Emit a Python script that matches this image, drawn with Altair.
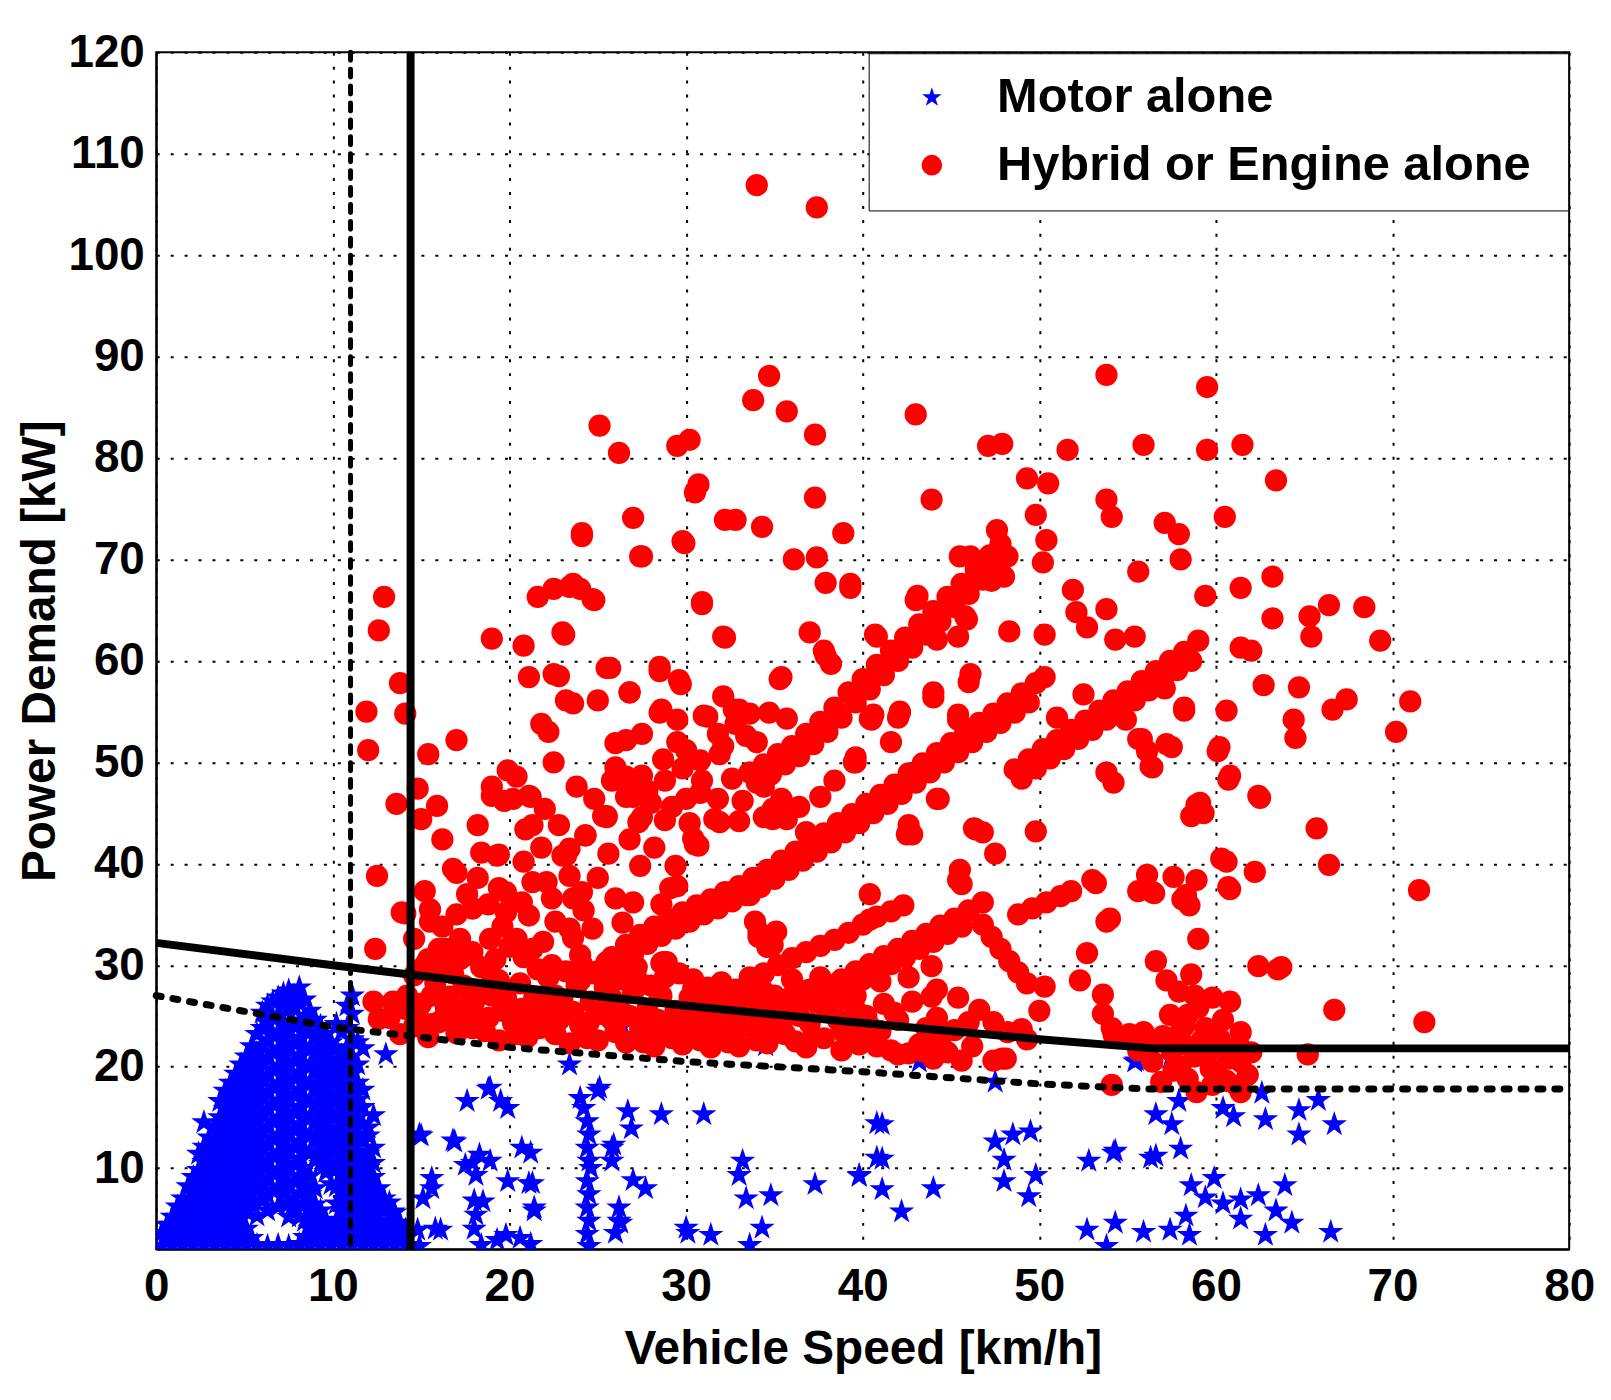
import altair as alt
import pandas as pd

# ---------------- data ----------------
MOTOR = "Motor alone"
HYBRID = "Hybrid or Engine alone"

# Blue cluster at low speed: (x, [y values]) columns
blue_cluster_cols = [
    (0.3, [2.3, 3.6]),
    (0.9, [2.3, 3.8, 5.2]),
    (1.5, [2.3, 3.9, 5.6, 7.0]),
    (2.1, [2.4, 4.0, 5.7, 7.4, 9.1]),
    (2.7, [2.3, 3.9, 5.5, 7.2, 8.9, 10.6, 12.1, 14.5]),
    (3.3, [2.4, 4.1, 5.8, 7.5, 9.2, 10.9, 12.6, 14.1]),
    (3.9, [2.3, 4.0, 5.6, 7.3, 9.0, 10.7, 12.4, 14.1, 15.8, 17.6]),
    (4.5, [2.5, 4.2, 5.9, 7.6, 9.3, 11.0, 12.7, 14.4, 16.1, 17.8, 19.3]),
    (5.1, [2.3, 4.0, 5.7, 7.4, 9.1, 10.8, 12.5, 14.2, 15.9, 17.6, 19.3, 21.0]),
    (5.7, [2.4, 5.3, 7.7, 9.4, 11.1, 12.8, 14.5, 16.2, 17.9, 19.6, 21.3, 23.2]),
    (6.3, [2.3, 5.8, 7.3, 9.0, 10.7, 12.4, 14.1, 15.8, 17.5, 19.2, 20.9, 22.6, 24.3, 26.0]),
    (6.9, [2.4, 6.2, 8.1, 9.8, 11.5, 13.2, 14.9, 16.6, 18.3, 20.0, 21.7, 23.4, 25.1, 26.8]),
    (7.5, [2.3, 5.2, 6.5, 8.2, 9.9, 11.6, 13.3, 15.0, 16.7, 18.4, 20.1, 21.8, 23.5, 25.6, 27.5]),
    (8.1, [2.5, 5.2, 7.5, 9.2, 10.9, 12.6, 14.3, 16.0, 17.7, 19.4, 21.1, 22.8, 24.5, 26.5, 27.8]),
    (8.7, [2.3, 4.0, 5.7, 7.4, 9.2, 11.5, 13.2, 14.9, 16.6, 18.3, 20.0, 21.7, 23.4, 25.5]),
    (9.3, [2.4, 4.1, 5.8, 10.4, 12.2, 13.9, 15.6, 17.3, 19.0, 20.7, 22.4, 24.0]),
    (9.9, [2.3, 4.0, 8.4, 10.5, 12.2, 13.9, 15.6, 17.3, 19.0, 20.7, 22.4]),
    (10.5, [2.4, 4.1, 5.8, 7.5, 9.2, 10.9, 12.6, 14.3, 16.0, 17.7, 19.4, 21.1, 23.4]),
    (11.1, [2.3, 4.0, 5.7, 7.4, 9.1, 10.8, 12.5, 14.2, 15.9, 17.6, 19.3, 21.0, 22.7, 25.2, 27.0]),
    (11.7, [2.4, 4.1, 5.8, 7.5, 9.2, 10.9, 12.6, 14.3, 16.0, 17.7, 21.8]),
    (12.3, [2.3, 4.0, 5.7, 7.4, 9.1, 10.5, 12.0, 15.2]),
    (12.9, [2.4, 4.1, 5.8, 7.0]),
    (13.5, [2.3, 4.0, 5.6]),
    (14.1, [2.4, 3.9]),
    (0.6, [3.0, 4.4]),
    (1.2, [3.1, 4.6, 6.2]),
    (1.8, [3.1, 4.8, 6.5, 8.2]),
    (2.4, [3.1, 4.8, 6.5, 8.1, 9.8, 11.4]),
    (3.0, [3.1, 4.7, 6.4, 8.0, 9.7, 11.4, 13.0]),
    (3.6, [3.2, 4.9, 6.6, 8.3, 10.0, 11.7, 13.4, 15.0, 16.6]),
    (4.2, [3.1, 4.8, 6.5, 8.2, 9.9, 11.6, 13.3, 15.0, 16.7, 18.4]),
    (4.8, [3.3, 5.0, 6.7, 8.4, 10.1, 11.8, 13.5, 15.2, 16.9, 18.6, 20.2]),
    (5.4, [3.1, 6.6, 8.3, 10.0, 11.7, 13.4, 15.1, 16.8, 18.5, 20.2, 22.0]),
    (6.0, [6.8, 8.5, 10.2, 11.9, 13.6, 15.3, 17.0, 18.7, 20.4, 22.1, 23.8, 25.3]),
    (6.6, [7.8, 9.5, 11.2, 12.9, 14.6, 16.3, 18.0, 19.7, 21.4, 23.1, 24.8, 26.4]),
    (7.2, [7.4, 9.1, 10.8, 12.5, 14.2, 15.9, 17.6, 19.3, 21.0, 22.7, 24.4, 26.1, 27.2]),
    (7.8, [6.0, 7.0, 8.7, 10.4, 12.1, 13.8, 15.5, 17.2, 18.9, 20.6, 22.3, 24.0, 25.7, 27.0]),
    (8.4, [3.2, 4.8, 6.5, 8.3, 10.0, 11.8, 13.5, 15.2, 16.9, 18.6, 20.3, 22.0, 23.7, 25.0, 26.6]),
    (9.0, [3.1, 4.8, 6.4, 8.0, 11.0, 12.8, 14.5, 16.2, 17.9, 19.6, 21.3, 23.0, 24.6]),
    (9.6, [3.2, 4.9, 9.6, 11.3, 13.0, 14.7, 16.4, 18.1, 19.8, 21.5, 23.2]),
    (10.2, [3.1, 4.8, 6.5, 8.2, 9.9, 11.6, 13.3, 15.0, 16.7, 18.4, 20.1, 21.8, 24.2]),
    (10.8, [3.2, 4.9, 6.6, 8.3, 10.0, 11.7, 13.4, 15.1, 16.8, 18.5, 20.2, 21.9, 23.8, 26.0]),
    (11.4, [3.1, 4.8, 6.5, 8.2, 9.9, 11.6, 13.3, 15.0, 16.7, 18.4, 20.2, 22.4]),
    (12.0, [3.2, 4.9, 6.6, 8.3, 10.0, 11.4, 13.2, 14.0]),
    (12.6, [3.1, 4.8, 6.4, 8.0]),
    (13.2, [3.2, 4.8, 6.6]),
    (13.8, [3.1, 4.6]),
]

blue_scattered = [
    (13.0, 21.2), (14.9, 13.3), (16.9, 12.6), (17.6, 16.6), (18.9, 17.9), (19.9, 15.9),
    (20.7, 12.0), (18.3, 11.3), (18.9, 10.7), (17.5, 10.3), (18.1, 9.3), (15.6, 9.0),
    (19.9, 8.7), (21.1, 8.5), (21.4, 6.1), (18.5, 6.7), (18.1, 5.4), (15.6, 8.0),
    (15.1, 7.0), (12.6, 6.7), (13.4, 5.7), (21.4, 5.8), (21.2, 2.5), (19.3, 2.9),
    (18.0, 4.0), (18.4, 2.4), (15.8, 4.0), (14.9, 2.3), (16.1, 3.9), (14.8, 3.9),
    (15.0, 13.2), (17.9, 10.5), (18.0, 6.8), (21.2, 11.5), (21.3, 8.5), (20.6, 3.1),
    (19.8, 3.4), (18.8, 17.8), (19.5, 16.6), (16.8, 12.7),
    (23.4, 20.2), (25.1, 17.9), (24.0, 16.9), (24.2, 15.9), (24.4, 14.6), (24.5, 13.3),
    (24.4, 12.0), (24.5, 10.7), (24.6, 10.0), (24.4, 8.7), (24.5, 7.4), (24.4, 6.1),
    (24.5, 4.8), (24.4, 3.5), (24.5, 2.3), (25.0, 17.6), (25.8, 12.0), (25.8, 10.7),
    (25.9, 12.3), (26.9, 13.9), (26.7, 15.6), (28.6, 15.3), (31.0, 15.3), (27.0, 8.8),
    (27.7, 8.0), (26.2, 6.1), (26.2, 4.8), (26.3, 4.6), (26.0, 3.6), (30.1, 3.6),
    (31.4, 3.4), (30.0, 4.1), (26.4, 24.0),
    (33.2, 10.7), (33.0, 9.3), (33.4, 7.0), (34.8, 7.3), (34.3, 4.1), (33.6, 2.4),
    (37.3, 8.4), (39.8, 9.3), (40.8, 14.4), (40.8, 11.0), (34.5, 22.1),
    (41.1, 14.3), (41.1, 10.9), (39.8, 9.2), (41.1, 7.9), (44.0, 8.0), (42.2, 5.7),
    (43.2, 20.5), (47.5, 18.5), (47.5, 12.6), (48.5, 13.3), (49.5, 13.6), (48.0, 10.8),
    (48.0, 8.7), (49.8, 9.3), (49.4, 7.2),
    (52.8, 10.7), (54.3, 11.7), (56.6, 11.2), (58.0, 11.9), (55.4, 20.5), (57.4, 20.8),
    (57.9, 16.6), (56.6, 15.3), (57.5, 14.3), (60.4, 15.9), (61.0, 15.1), (62.6, 17.4),
    (62.8, 14.8), (64.7, 15.7), (65.8, 16.7), (64.7, 13.3), (66.7, 14.3), (58.6, 8.3),
    (59.9, 9.0), (59.4, 7.1), (60.4, 6.5), (61.4, 6.9), (62.4, 7.3), (63.9, 8.3),
    (63.4, 5.8), (64.3, 4.6), (61.4, 5.0), (58.3, 5.3), (54.3, 4.6), (52.7, 3.9),
    (55.9, 3.7), (57.4, 3.9), (66.5, 3.7), (53.8, 2.3), (58.5, 3.4), (62.8, 3.4),
    (55.5, 20.6), (56.3, 11.0), (54.2, 11.5),
]

# Hybrid / engine: scattered points
red_scattered = [
    (34.0, 106.9), (37.4, 104.7), (53.8, 88.2), (59.5, 87.0), (34.7, 88.1), (33.8, 85.7),
    (35.7, 84.6), (43.0, 84.3), (25.1, 83.2), (26.2, 80.5), (37.3, 82.3), (29.5, 81.2),
    (30.2, 81.8), (47.1, 81.2), (47.9, 81.4), (51.6, 80.8), (55.9, 81.3), (59.5, 80.8),
    (61.5, 81.3), (63.4, 77.8), (49.3, 78.0), (50.5, 77.5), (43.9, 75.9), (37.3, 76.1),
    (30.5, 76.6), (30.7, 77.4), (27.0, 74.1), (32.2, 73.9), (32.8, 73.9), (34.3, 73.2),
    (27.5, 70.3), (24.1, 72.6), (29.8, 71.8), (38.9, 72.6), (36.1, 70.0), (37.4, 70.2),
    (39.3, 67.2), (37.9, 67.7), (49.8, 74.4), (53.8, 75.9), (54.1, 74.2), (57.1, 73.6),
    (57.9, 72.5), (60.5, 74.2), (50.4, 71.9), (50.2, 69.7), (47.6, 72.9), (48.2, 70.3),
    (47.3, 67.9), (46.1, 70.3), (48.0, 68.3), (55.6, 68.8), (58.0, 70.0), (39.3, 67.6),
    (43.1, 66.4), (51.9, 67.0), (61.4, 67.2), (63.2, 68.3), (59.4, 66.4), (53.8, 65.1),
    (52.1, 64.8), (52.7, 63.3), (45.8, 64.4), (45.4, 62.4), (44.2, 62.1), (40.7, 62.6),
    (48.3, 62.9), (50.3, 62.6), (54.3, 62.1), (55.4, 62.4), (61.4, 61.3), (62.0, 61.0),
    (63.2, 64.2), (65.3, 64.4), (65.4, 62.4), (66.4, 65.5), (68.4, 65.3), (69.3, 62.0),
    (71.0, 56.0), (70.2, 53.0), (62.7, 57.6), (64.7, 57.4), (64.4, 54.2), (64.5, 52.4),
    (66.6, 55.2), (67.4, 56.2), (60.2, 51.5), (60.8, 48.7), (57.5, 51.5), (58.2, 55.4),
    (57.1, 57.3), (55.8, 52.3), (56.4, 49.5), (53.8, 49.0), (54.2, 48.0), (54.9, 54.2),
    (52.5, 56.7), (51.0, 54.4), (39.6, 50.5), (40.5, 54.2), (42.0, 54.4), (44.0, 56.4),
    (45.4, 54.2), (46.1, 58.7), (30.9, 65.8), (21.6, 66.3), (22.5, 67.1), (23.4, 67.3),
    (24.0, 67.1), (24.8, 66.0), (12.9, 66.3), (12.6, 63.0), (23.0, 62.8), (19.0, 62.2),
    (20.8, 61.5), (25.5, 59.3), (21.1, 58.4), (22.5, 58.7), (32.1, 62.4), (28.5, 59.4),
    (29.6, 58.1), (35.4, 58.4), (37.8, 61.0), (38.2, 59.7), (24.1, 72.3), (27.4, 70.3),
    (29.9, 71.6), (30.9, 65.6), (32.2, 62.3), (37.0, 62.8), (35.3, 58.2), (37.9, 60.5),
    (43.0, 66.0), (40.8, 62.4), (45.5, 70.3), (45.9, 64.1), (44.0, 56.9), (46.0, 57.9),
    (42.1, 54.9), (40.6, 54.7), (45.4, 54.7), (39.6, 50.0), (44.3, 46.4), (42.6, 43.8),
    (46.4, 43.4), (36.8, 43.1), (23.6, 67.6), (24.7, 66.1), (23.1, 62.6), (25.7, 59.3),
    (22.8, 58.5), (23.2, 56.1), (25.0, 56.1), (26.8, 56.9), (28.5, 59.0), (29.7, 57.7),
    (60.6, 55.1), (60.1, 51.1), (60.7, 48.3), (59.1, 46.0), (59.3, 45.0), (58.6, 44.7),
    (62.5, 46.5), (58.2, 55.1), (57.2, 51.8), (56.1, 51.1), (55.6, 52.3), (56.3, 49.6),
    (71.5, 37.4), (71.8, 24.4), (66.7, 25.6), (66.4, 39.9), (65.7, 43.5), (65.2, 21.2),
    (62.4, 46.7), (58.9, 45.8), (60.6, 40.2), (60.7, 37.7), (62.2, 39.2), (58.9, 38.4),
    (58.3, 36.9), (58.5, 35.9), (57.6, 38.7), (56.1, 38.9), (55.6, 37.3), (56.5, 37.1),
    (53.0, 38.4), (59.0, 32.6), (63.5, 29.6), (62.4, 29.9), (63.7, 29.8), (54.0, 34.6),
    (60.3, 40.5), (60.8, 37.5), (58.1, 36.5), (56.4, 37.2), (53.2, 38.1), (53.8, 34.3),
    (52.7, 31.2), (52.3, 28.5), (53.6, 27.1), (53.6, 25.2), (54.1, 23.8), (54.1, 18.2),
    (56.4, 20.5), (56.9, 18.5), (58.4, 18.8), (58.9, 17.5), (59.7, 19.8), (60.7, 20.8),
    (61.4, 17.5), (61.4, 20.5), (61.4, 23.4), (60.8, 26.4), (58.6, 29.1), (57.2, 28.5),
    (56.6, 30.4), (57.4, 25.1), (58.4, 25.1), (59.0, 25.8), (59.4, 23.8), (57.9, 23.2),
    (55.9, 23.4), (55.1, 23.2), (54.2, 23.2), (57.9, 27.4), (61.3, 22.1), (61.2, 18.1),
    (60.0, 19.5), (57.5, 21.5), (58.2, 22.2), (59.6, 21.6), (60.4, 24.6),
    (58.0, 20.0), (58.8, 21.0), (59.2, 22.6), (60.2, 22.8), (59.8, 26.8), (58.8, 27.0),
    (58.2, 24.0), (57.0, 23.0), (56.2, 22.0), (55.6, 21.6), (60.6, 18.6), (59.8, 18.2),
    (57.6, 19.6), (62.0, 21.4), (61.8, 19.2),
    (44.2, 46.4), (46.3, 43.5), (49.8, 43.2), (47.5, 41.0), (45.4, 38.4), (40.4, 37.0),
    (42.5, 42.9), (43.9, 26.9), (42.0, 21.2), (43.2, 22.2), (40.3, 23.8), (47.9, 20.8),
    (47.4, 20.6), (48.1, 20.8), (49.3, 22.7), (49.0, 23.7), (50.0, 25.5), (50.3, 27.9),
    (43.9, 29.9), (43.6, 21.7), (36.8, 21.9), (40.4, 34.5), (42.8, 42.9), (46.8, 43.1),
    (45.5, 39.4), (45.6, 38.0), (41.6, 52.0), (40.4, 54.3), (42.1, 55.0), (39.5, 50.0),
]

# Points left of / around the vertical line and the upper-left part of the cloud
red_left = [
    (11.9, 55.0), (12.0, 51.2), (13.8, 57.8), (14.1, 54.8), (12.5, 38.8), (12.4, 31.6),
    (13.6, 45.9), (14.8, 47.4), (15.0, 44.4), (15.4, 50.8), (15.9, 45.7), (17.0, 52.2),
    (15.5, 35.5), (15.2, 37.3), (14.1, 35.1), (17.0, 39.1), (19.0, 47.6), (19.9, 49.2),
    (19.7, 46.2), (21.2, 46.6), (20.9, 43.4), (22.5, 50.0), (21.8, 53.8), (22.2, 53.0),
    (23.6, 55.8), (23.0, 40.8), (18.4, 41.1), (19.4, 40.9), (26.0, 49.5), (26.6, 52.2),
    (27.5, 52.8), (26.8, 56.9), (28.6, 55.2), (29.5, 54.2), (31.2, 54.5), (32.7, 55.2),
    (33.0, 55.0), (29.5, 52.0), (30.0, 51.2), (30.8, 47.0), (30.5, 41.9), (29.5, 37.8),
    (28.6, 30.2), (33.9, 34.3), (34.1, 32.8), (34.6, 31.8), (35.1, 33.3),
    (13.9, 35.2), (14.1, 25.7), (12.6, 24.7), (13.4, 26.4), (15.5, 34.3), (16.0, 31.6),
    (17.2, 30.6), (17.9, 35.6), (19.4, 37.6), (19.8, 35.2), (20.7, 36.2), (21.3, 31.6),
    (22.6, 34.3), (23.6, 36.6), (24.1, 30.1), (21.3, 38.2), (15.6, 27.0), (16.0, 24.4),
    (17.5, 25.7), (17.9, 23.8), (19.0, 27.0), (19.4, 28.5), (20.7, 25.7), (21.7, 23.8),
    (22.8, 25.7), (24.0, 24.1), (24.0, 28.5), (23.6, 32.7), (15.1, 23.8), (12.3, 26.4),
    (16.8, 39.5), (19.3, 40.8), (19.8, 37.2), (17.9, 35.6), (21.3, 43.8), (21.1, 46.7),
    (19.0, 46.7), (20.2, 46.4), (24.3, 42.8), (25.5, 44.7), (23.2, 40.8), (22.1, 38.2),
    (21.1, 34.9), (24.1, 37.2), (27.0, 36.2), (24.7, 33.6), (18.9, 32.6), (17.2, 32.6),
    (21.9, 32.3), (23.4, 33.6), (17.5, 27.7), (19.8, 26.7), (21.3, 25.1), (22.6, 27.0),
    (24.0, 29.0), (25.5, 30.3), (24.5, 24.4), (25.8, 26.7), (27.3, 28.4), (28.9, 30.3),
    (28.5, 27.0), (30.4, 27.7), (28.1, 23.1), (26.6, 22.5), (29.6, 23.4), (31.1, 24.4),
    (32.3, 23.1), (33.8, 24.4), (34.9, 23.4), (35.7, 25.1), (36.8, 22.1), (37.5, 26.7),
    (39.6, 27.0), (40.2, 24.4), (34.1, 27.7), (32.6, 37.2), (29.1, 37.6), (31.9, 44.1),
    (30.4, 42.5), (30.7, 41.8), (34.9, 44.4), (33.6, 36.9), (34.1, 33.3), (34.9, 32.0),
    (28.7, 30.3), (17.9, 31.3), (16.4, 31.6),
    (26.0, 51.9), (28.7, 50.3), (32.1, 51.6), (33.4, 52.6), (28.5, 54.9), (31.0, 54.6),
    (32.1, 56.5), (33.0, 55.2), (34.7, 54.9), (35.7, 54.3), (34.0, 52.0), (30.9, 48.2),
    (31.9, 50.8), (30.0, 46.4), (26.6, 48.6), (27.0, 46.6), (27.5, 44.6), (28.8, 44.3),
    (30.2, 44.0), (31.6, 44.4), (33.0, 44.2), (34.4, 44.6), (35.7, 44.4), (34.9, 45.4),
    (25.3, 44.7), (24.3, 42.8), (23.4, 41.5), (27.2, 48.0), (27.5, 48.7), (26.6, 46.6),
    (25.5, 44.6), (27.3, 44.1), (36.8, 43.1),
    (14.6, 32.6), (15.2, 30.0), (16.2, 33.8), (17.0, 35.0), (17.6, 37.0), (18.2, 38.6),
    (18.8, 36.0), (19.6, 33.8), (20.4, 32.6), (20.8, 40.2), (21.8, 41.6), (22.4, 36.6),
    (22.8, 43.8), (23.4, 38.8), (24.2, 35.4), (25.0, 38.6), (25.6, 41.0), (26.0, 36.6),
    (26.4, 34.2), (27.4, 39.8), (28.2, 41.6), (28.6, 36.0), (29.4, 39.8), (26.8, 42.4),
    (18.2, 43.8), (16.2, 42.4), (20.4, 48.6), (23.8, 47.6), (22.0, 45.4), (24.8, 46.4),
    (25.8, 48.2), (28.0, 46.0), (29.2, 45.6), (31.8, 46.4), (32.6, 48.4), (33.2, 46.2),
    (34.4, 47.6), (35.4, 46.4), (36.4, 45.6), (37.6, 46.6), (38.4, 48.2),
    (27.8, 47.2), (28.8, 48.2), (29.8, 49.4), (30.8, 50.2), (31.8, 52.8), (32.8, 53.8),
    (33.6, 54.8),
]

# Dense band just above the dashed boundary
red_band = [
    (13.2, 24.8), (13.8, 23.2), (14.6, 24.0), (15.4, 22.9), (16.2, 24.6), (17.0, 23.3),
    (17.8, 25.2), (18.6, 23.5), (19.4, 22.6), (20.2, 24.3), (21.0, 22.9), (21.8, 25.0),
    (22.6, 23.2), (23.4, 22.3), (24.2, 24.0), (25.0, 22.6), (25.8, 24.6), (26.6, 22.4),
    (27.4, 23.8), (28.2, 22.0), (29.0, 23.6), (29.8, 22.2), (30.6, 23.8), (31.4, 21.9),
    (32.2, 23.5), (33.0, 22.0), (33.8, 23.9), (34.6, 22.3), (35.4, 24.1), (36.2, 22.5),
    (37.0, 24.3), (37.8, 22.8), (38.6, 24.6), (39.4, 23.2), (40.2, 25.0), (41.0, 23.5),
    (41.8, 25.3), (42.6, 21.3), (43.4, 21.5), (44.2, 24.8),
    (14.2, 27.0), (15.0, 26.2), (15.8, 28.3), (16.6, 26.9), (17.4, 28.0), (18.2, 27.1),
    (19.0, 29.0), (19.8, 26.7), (20.6, 28.2), (21.4, 26.8), (22.2, 28.8), (23.0, 26.5),
    (23.8, 28.0), (24.6, 26.4), (25.4, 27.8), (26.2, 25.9), (27.0, 27.3), (27.8, 25.6),
    (28.6, 27.0), (29.4, 25.5), (30.2, 26.8), (31.0, 25.3), (31.8, 26.5), (32.6, 25.2),
    (33.4, 26.6), (34.2, 25.6), (35.0, 27.0), (35.8, 26.0), (36.6, 27.4), (37.4, 26.3),
    (38.2, 27.6), (39.0, 26.6),
    (16.0, 30.2), (17.6, 31.0), (19.2, 30.6), (20.8, 30.8), (22.4, 30.0), (24.0, 31.0),
    (25.6, 30.0), (27.2, 29.8), (28.8, 28.8), (30.4, 28.6), (32.0, 28.3), (33.6, 28.8),
    (14.8, 25.4), (15.6, 24.2), (16.4, 25.8), (17.2, 24.6), (18.0, 26.4), (18.8, 24.8),
    (19.6, 25.5), (20.4, 23.2), (21.2, 24.2), (22.0, 26.6), (22.8, 24.6), (23.6, 25.4),
    (24.4, 22.8), (25.2, 25.2), (26.0, 23.4), (26.8, 25.0), (27.6, 22.4), (28.4, 24.6),
    (29.2, 22.8), (30.0, 24.9), (30.8, 22.6), (31.6, 24.7), (32.4, 22.4), (33.2, 24.0),
    (34.0, 22.6), (34.8, 24.8), (35.6, 23.2), (36.4, 25.0), (37.2, 23.0), (38.0, 25.4),
    (38.8, 23.6), (39.6, 25.6), (40.4, 24.0), (41.2, 26.2), (42.0, 24.6), (42.8, 26.4),
    (43.6, 23.8), (44.4, 22.6), (45.2, 23.6), (46.0, 24.4), (44.8, 21.4), (41.6, 21.6),
    (40.8, 22.0), (39.8, 22.2), (38.8, 21.6),
    (14.6, 29.0), (15.4, 30.6), (16.8, 29.2), (18.4, 29.8), (20.0, 31.8), (21.6, 29.6),
    (23.2, 29.4), (24.8, 29.2), (26.4, 28.6), (28.0, 28.0), (29.6, 29.2), (31.2, 27.8),
    (32.8, 27.0), (34.4, 27.4), (36.0, 28.6), (37.6, 28.8), (39.4, 28.0), (41.0, 28.4),
    (42.6, 28.8), (44.2, 27.6), (45.4, 26.8), (46.6, 25.6), (47.4, 24.4), (48.2, 23.4),
    (46.2, 22.0), (45.6, 20.6), (44.0, 20.8),
]

# Diagonal streaks of the red cloud
red_streak_a = [
    (33.6, 49.0), (34.4, 49.8), (35.2, 50.8), (36.0, 51.6), (36.8, 52.8), (37.6, 54.0),
    (38.4, 55.4), (39.2, 56.9), (40.0, 58.2), (40.8, 59.6), (41.6, 61.0), (42.4, 62.3),
    (43.2, 63.6), (44.0, 64.9), (44.8, 66.3), (45.6, 67.6), (46.4, 69.0), (47.2, 70.4),
    (47.8, 71.5),
    (34.0, 48.0), (34.8, 48.8), (35.6, 49.8), (36.4, 50.6), (37.2, 51.8), (38.0, 53.0),
    (38.8, 54.4), (39.6, 55.9), (40.4, 57.2), (41.2, 58.6), (42.0, 60.0), (42.8, 61.3),
    (43.6, 62.6), (44.4, 63.9), (45.2, 65.3), (46.0, 66.6), (46.8, 68.0), (47.6, 69.4),
]
red_streak_b = [
    (25.0, 29.4), (25.8, 30.8), (26.6, 32.0), (27.4, 33.0), (28.2, 33.8), (29.0, 34.5),
    (29.8, 35.2), (30.6, 35.9), (31.4, 36.5), (32.2, 37.2), (33.0, 37.8), (33.8, 38.6),
    (34.6, 39.4), (35.4, 40.3), (36.2, 41.2), (37.0, 42.1), (37.8, 43.0), (38.6, 44.0),
    (39.4, 44.9), (40.2, 45.9), (41.0, 46.8), (41.8, 47.8), (42.6, 48.9), (43.4, 49.9),
    (44.2, 50.9), (45.0, 51.9), (45.8, 52.9), (46.6, 53.9), (47.4, 54.8), (48.2, 55.8),
    (49.0, 56.8), (49.8, 57.8), (50.3, 58.4),
    (25.4, 28.5), (26.2, 29.9), (27.0, 31.1), (27.8, 32.1), (28.6, 32.9), (29.4, 33.6),
    (30.2, 34.3), (31.0, 35.0), (31.8, 35.6), (32.6, 36.3), (33.4, 36.9), (34.2, 37.7),
    (35.0, 38.5), (35.8, 39.4), (36.6, 40.3), (37.4, 41.2), (38.2, 42.1), (39.0, 43.1),
    (39.8, 44.0), (40.6, 45.0), (41.4, 45.9), (42.2, 46.9), (43.0, 48.0), (43.8, 49.0),
    (44.6, 50.0), (45.4, 51.0), (46.2, 52.0), (47.0, 53.0), (47.8, 53.9), (48.6, 54.9),
    (49.4, 55.9),
]
red_streak_c = [
    (48.6, 49.3), (49.4, 50.3), (50.2, 51.3), (51.0, 52.2), (51.8, 53.2), (52.6, 54.1),
    (53.4, 55.1), (54.2, 56.1), (55.0, 57.0), (55.8, 58.0), (56.6, 59.0), (57.4, 60.0),
    (58.2, 60.9), (59.0, 62.0),
    (49.0, 48.4), (49.8, 49.4), (50.6, 50.4), (51.4, 51.3), (52.2, 52.3), (53.0, 53.2),
    (53.8, 54.2), (54.6, 55.2), (55.4, 56.1), (56.2, 57.1), (57.0, 58.1), (57.8, 59.1),
    (58.6, 60.0),
]
red_streak_d = [
    (30.4, 25.6), (31.2, 26.3), (32.0, 27.0), (32.8, 27.6), (33.6, 28.4), (34.4, 29.2),
    (35.2, 30.0), (36.0, 30.7), (36.8, 31.3), (37.6, 31.9), (38.4, 32.5), (39.2, 33.2),
    (40.0, 34.0), (40.8, 34.8), (41.6, 35.3), (42.3, 35.9),
    (31.0, 23.8), (32.0, 24.5), (33.0, 25.2), (34.0, 25.8), (35.0, 26.4), (36.0, 27.0),
    (37.0, 27.6), (38.0, 28.1), (38.8, 28.6), (39.6, 29.4), (40.4, 30.1), (41.2, 30.9),
    (42.0, 31.6), (42.8, 32.4), (43.6, 33.1), (44.4, 33.9), (45.2, 34.6), (46.0, 35.4),
    (46.8, 36.2),
    (31.4, 23.0), (32.4, 23.7), (33.4, 24.4), (34.4, 25.0), (35.4, 25.6), (36.4, 26.2),
    (37.4, 26.8), (38.4, 27.3), (39.2, 27.9), (40.0, 28.6), (40.8, 29.3), (41.6, 30.1),
    (42.4, 30.8), (43.2, 31.6), (44.0, 32.3), (44.8, 33.1), (45.6, 33.8),
    (46.8, 34.0), (47.3, 32.8), (47.8, 31.6), (48.3, 30.4), (48.8, 29.3), (49.3, 28.2),
    (48.8, 35.0), (49.6, 35.6), (50.4, 36.2), (51.2, 36.8), (51.8, 37.3),
]

# Boundary curves and thresholds
solid_x = [0, 10, 20, 30, 40, 50, 56.4, 80]
solid_y = [32.2, 30.0, 27.9, 26.0, 24.3, 22.7, 21.8, 21.8]
dashed_x = [0, 10, 20, 30, 40, 50, 56, 80]
dashed_y = [27.0, 23.9, 21.9, 20.5, 19.5, 18.3, 17.8, 17.8]
solid_vline_x = [14.4]
dashed_vline_x = [11.0]

x_ticks = [0, 10, 20, 30, 40, 50, 60, 70, 80]
y_ticks = [10, 20, 30, 40, 50, 60, 70, 80, 90, 100, 110, 120]

# ---------------- build tables ----------------
rows = []
for cx, ys in blue_cluster_cols:
    for cy in ys:
        rows.append((cx, cy, MOTOR))
for px, py in blue_scattered:
    rows.append((px, py, MOTOR))
for grp in [red_band, red_left, red_streak_d, red_streak_b, red_streak_a,
            red_streak_c, red_scattered]:
    for px, py in grp:
        rows.append((px, py, HYBRID))
pts = pd.DataFrame(rows, columns=["x", "y", "mode"])
pts["order"] = range(len(pts))
pts["sz"] = pts["mode"].map({MOTOR: 720, HYBRID: 500})

solid_df = pd.DataFrame({"x": solid_x, "y": solid_y})
dashed_df = pd.DataFrame({"x": dashed_x, "y": dashed_y})
vsolid_df = pd.DataFrame({"x": solid_vline_x})
vdash_df = pd.DataFrame({"x": dashed_vline_x})

STAR = ("M0,-1L0.2245,-0.309L0.951,-0.309L0.3633,0.118L0.5878,0.809L0,0.382"
        "L-0.5878,0.809L-0.3633,0.118L-0.951,-0.309L-0.2245,-0.309Z")

FONT = "Liberation Sans"

xscale = alt.Scale(domain=[0, 80], nice=False, zero=False)
yscale = alt.Scale(domain=[2, 120], nice=False, zero=False)


def xenc():
    return alt.X("x:Q", scale=xscale,
                 axis=alt.Axis(values=x_ticks, title="Vehicle Speed [km/h]",
                               labelPadding=16, titlePadding=16, format="d",
                               labelFlush=False))


def yenc():
    return alt.Y("y:Q", scale=yscale,
                 axis=alt.Axis(values=y_ticks, title="Power Demand [kW]",
                               labelPadding=12, titlePadding=4, format="d",
                               labelFlush=False))


def legend():
    return alt.Legend(title=" ", titleOrient="right", titlePadding=18,
                      titleFontSize=10, orient="top-right", offset=1,
                      fillColor="white", strokeColor="black",
                      padding=20, labelFontSize=49, labelFont=FONT,
                      labelFontWeight="bold", labelColor="black",
                      symbolOffset=19, labelOffset=41, rowPadding=18,
                      symbolSize=430, symbolStrokeWidth=0,
                      symbolOpacity=1, labelLimit=800)


points = alt.Chart(pts).mark_point(filled=True, opacity=1, strokeWidth=0, clip=True).encode(
    x=xenc(),
    y=yenc(),
    order=alt.Order("order:Q"),
    size=alt.Size("sz:Q", scale=None, legend=None),
    color=alt.Color("mode:N",
                    scale=alt.Scale(domain=[MOTOR, HYBRID], range=["#0000ff", "#ff0000"]),
                    legend=legend()),
    shape=alt.Shape("mode:N",
                    scale=alt.Scale(domain=[MOTOR, HYBRID], range=[STAR, "circle"]),
                    legend=legend()),
)

solid_line = alt.Chart(solid_df).mark_line(color="black", strokeWidth=8).encode(
    x=xenc(), y=yenc())
dashed_line = alt.Chart(dashed_df).mark_line(
    color="black", strokeWidth=7, strokeDash=[5, 12], strokeCap="round").encode(
    x=xenc(), y=yenc())
vsolid = alt.Chart(vsolid_df).mark_rule(color="black", strokeWidth=8).encode(x=xenc())
vdash = alt.Chart(vdash_df).mark_rule(
    color="black", strokeWidth=5, strokeDash=[8, 9], strokeCap="round").encode(x=xenc())

chart = alt.layer(points, vdash, vsolid, dashed_line, solid_line).properties(
    width=1420, height=1203,
    background="white",
    autosize=alt.AutoSizeParams(type="none"),
    padding={"left": 149, "top": 41, "right": 34, "bottom": 140},
).configure_view(
    stroke="black", strokeWidth=2
).configure_axis(
    labelFont=FONT, labelFontSize=46, labelFontWeight="bold", labelColor="black",
    titleFont=FONT, titleFontSize=48, titleFontWeight="bold", titleColor="black",
    grid=True, gridColor="black", gridDash=[3, 11], gridWidth=2, gridOpacity=1,
    domain=True, domainColor="black", domainWidth=2, ticks=False,
)

chart.save("out.html", embed_options={"renderer": "svg", "actions": False})
